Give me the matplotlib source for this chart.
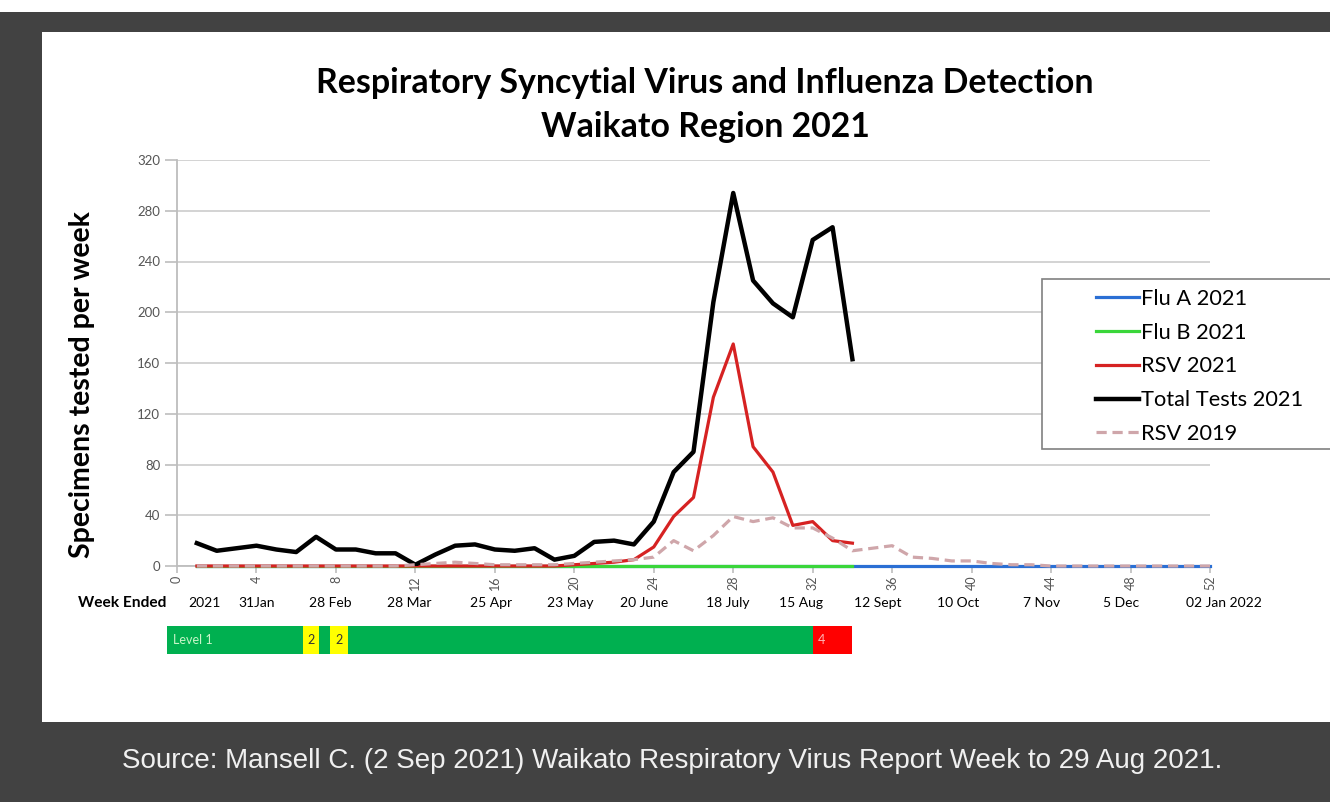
import numpy as np
import matplotlib
matplotlib.use('Agg')
import matplotlib.pyplot as plt
from matplotlib.patches import Rectangle
import matplotlib.transforms as mtransforms

# ---- data ----
weeks_all = list(range(1, 53))
weeks_2021 = list(range(1, 35))

total_2021 = [18, 12, 14, 16, 13, 11, 23, 13, 13, 10, 10, 1, 9, 16, 17, 13, 12,
              14, 5, 8, 19, 20, 17, 35, 74, 90, 208, 294, 225, 207, 196, 257,
              267, 163]
rsv_2021 = [0, 0, 0, 0, 0, 0, 0, 0, 0, 0, 0, 0, 0, 0, 0, 0, 0, 0, 0,
            1, 2, 3, 5, 15, 39, 54, 133, 175, 94, 74, 32, 35, 20, 18]
flu_b_2021 = [0] * 34
flu_a_2021 = [0] * 52
rsv_2019 = [0, 0, 0, 0, 0, 0, 0, 0, 0, 0, 0, 1, 2, 3, 2, 1, 1, 1, 1, 2, 3, 4,
            5, 7, 20, 12, 24, 39, 35, 38, 30, 30, 22, 12, 14, 16, 7, 6, 4, 4,
            2, 1, 1, 0, 0, 0, 0, 0, 0, 0, 0, 0]

week_ticks = list(range(0, 53, 4))
date_labels = ['2021', '31Jan', '28 Feb', '28 Mar', '25 Apr', '23 May', '20 June',
               '18 July', '15 Aug', '12 Sept', '10 Oct', '7 Nov', '5 Dec', '02 Jan 2022']
date_label_x = [1.4, 4.0, 7.7, 11.7, 15.8, 19.8, 23.5, 27.7, 31.4, 35.3, 39.3,
                43.5, 47.5, 52.7]

# alert levels (start week, end week, level)
level_start = [-0.5, 6.35, 7.15, 7.7, 8.6, 32.0]
level_end = [6.35, 7.15, 7.7, 8.6, 32.0, 34.0]
level_value = [1, 2, 1, 2, 1, 4]

W, H = 1330, 802
FONT = 'Lato'

fig = plt.figure(figsize=(W / 100, H / 100), dpi=100, facecolor='#424242')
# white strip on top and white chart panel (behind the axes)
fig.patches.append(Rectangle((0, 1 - 12 / H), 1, 12 / H, transform=fig.transFigure,
                             fc='white', ec='none', zorder=-1))
fig.patches.append(Rectangle((42 / W, 1 - 722 / H), 1 - 42 / W, 690 / H,
                             transform=fig.transFigure, fc='white', ec='none', zorder=-1))

ax = fig.add_axes([177 / W, 1 - 566 / H, 1033 / W, 406 / H])
ax.set_facecolor('none')

c_a, c_b, c_rsv, c_19 = '#2a6fd4', '#3ad63a', '#d62222', '#cfa6aa'
ax.plot(weeks_all, flu_a_2021, color=c_a, lw=2.3, label='Flu A 2021', zorder=3, clip_on=False)
ax.plot(weeks_2021, flu_b_2021, color=c_b, lw=2.3, label='Flu B 2021', zorder=3.1, clip_on=False)
ax.plot(weeks_2021, rsv_2021, color=c_rsv, lw=2.3, label='RSV 2021', zorder=4, clip_on=False)
ax.plot(weeks_2021, total_2021, color='black', lw=3.2, label='Total Tests 2021', zorder=5)
ax.plot(weeks_all, rsv_2019, color=c_19, lw=2.3, ls=(0, (3.2, 1.8)), label='RSV 2019',
        zorder=6, clip_on=False)

ax.set_xlim(0, 52)
ax.set_ylim(0, 320)
ax.set_yticks(range(0, 321, 40))
ax.set_xticks(week_ticks)
ax.grid(axis='y', color='#d0d0d0', lw=1.3)
ax.set_axisbelow(True)
for s in ['top', 'right']:
    ax.spines[s].set_visible(False)
for s in ['left', 'bottom']:
    ax.spines[s].set_color('#bdbdbd')
    ax.spines[s].set_linewidth(1.3)
    ax.spines[s].set_zorder(1)
ax.tick_params(axis='y', length=9, width=1.2, color='#bdbdbd', labelsize=9.5,
               labelcolor='#555555', pad=3)
ax.tick_params(axis='x', length=5, width=1.2, color='#bdbdbd', labelsize=9,
               labelcolor='#555555', labelrotation=90, pad=2)
for lab in ax.get_xticklabels() + ax.get_yticklabels():
    lab.set_fontfamily(FONT)

# date row under the axis
trans = mtransforms.blended_transform_factory(ax.transData, fig.transFigure)
for x, lab in zip(date_label_x, date_labels):
    ax.text(x, 1 - 603 / H, lab, transform=trans, ha='center', va='center',
            fontsize=10, family=FONT, clip_on=False)
fig.text(166 / W, 1 - 603 / H, 'Week Ended', ha='right', va='center', fontsize=11.2,
         fontweight='bold', family=FONT)

# alert level bar
bax = fig.add_axes([177 / W, 1 - 654 / H, 1033 / W, 28 / H])
bax.set_xlim(0, 52)
bax.set_ylim(0, 1)
bax.axis('off')
lvl_col = {1: '#00b050', 2: '#ffff00', 4: '#ff0000'}
for x0, x1, lv in zip(level_start, level_end, level_value):
    bax.broken_barh([(x0, x1 - x0)], (0, 1), facecolors=lvl_col[lv], clip_on=False)
    if lv == 2:
        bax.text((x0 + x1) / 2, 0.5, '2', ha='center', va='center', fontsize=9,
                 color='#333333', family=FONT, clip_on=False)
    elif lv == 4:
        bax.text(x0 + 0.45, 0.5, '4', ha='center', va='center', fontsize=9,
                 color='#ffb3b3', family=FONT, clip_on=False)
bax.text(level_start[0] + 0.3, 0.5, 'Level 1', ha='left', va='center', fontsize=9,
         color='#c8f5c8', family=FONT, clip_on=False)

# titles
fig.text(705 / W, 1 - 83 / H, 'Respiratory Syncytial Virus and Influenza Detection',
         ha='center', va='center', fontsize=24.4, fontweight='bold', family=FONT)
fig.text(705 / W, 1 - 127 / H, 'Waikato Region 2021', ha='center', va='center',
         fontsize=24.4, fontweight='bold', family=FONT)
fig.text(82 / W, 1 - 385 / H, 'Specimens tested per week', rotation=90, ha='center',
         va='center', fontsize=20.5, fontweight='bold', family=FONT)

# legend: white box runs past the right edge of the picture
ax.add_patch(Rectangle((1042 / W, 1 - 449 / H), 400 / W, 170 / H,
                       transform=fig.transFigure, fc='white', ec='#808080',
                       lw=1.2, zorder=8, clip_on=False))
leg = ax.legend(loc='upper left', bbox_to_anchor=(1096 / W, 1 - 289 / H),
                bbox_transform=fig.transFigure, frameon=False,
                handlelength=1.95, handletextpad=0.1, labelspacing=0.63,
                borderpad=0, borderaxespad=0, prop={'family': FONT, 'size': 15.7})
leg.set_zorder(10)

# source line
fig.text(672 / W, 1 - 761 / H,
         'Source: Mansell C. (2 Sep 2021) Waikato Respiratory Virus Report Week to 29 Aug 2021.',
         ha='center', va='center', fontsize=20, color='#f0f0f0', family='Liberation Sans')

fig.savefig('out.png', dpi=100, facecolor=fig.get_facecolor())
